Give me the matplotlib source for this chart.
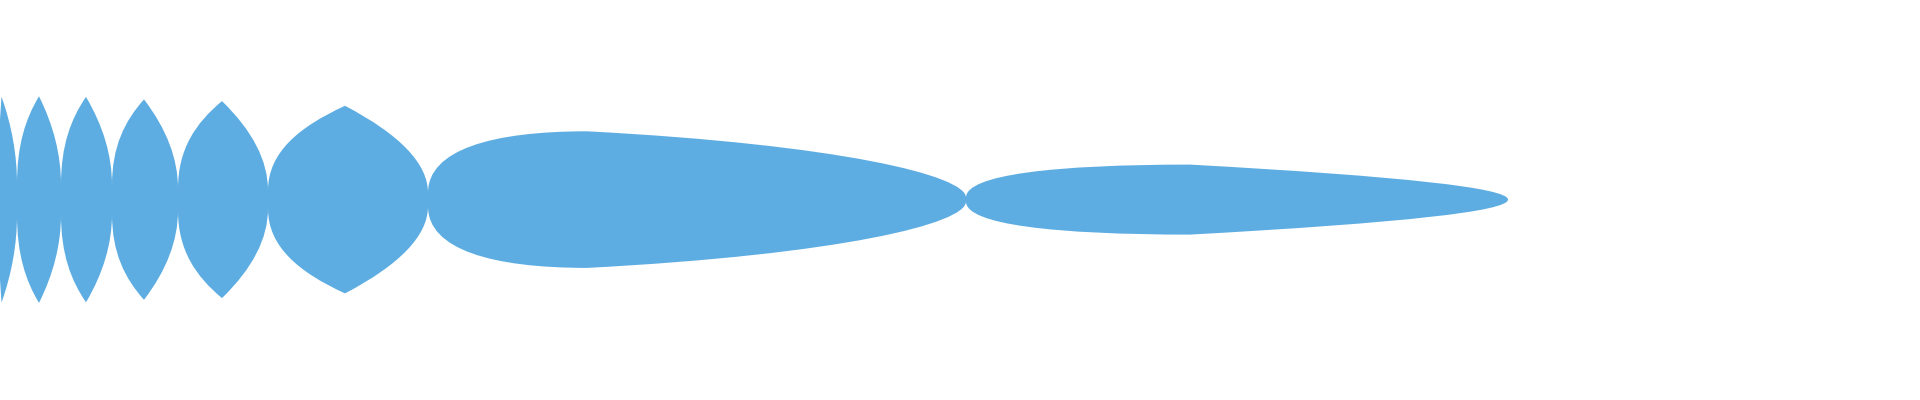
import numpy as np
import matplotlib
matplotlib.use("Agg")
import matplotlib.pyplot as plt
from matplotlib.path import Path
from matplotlib.patches import PathPatch

# outline nodes: position along the axis and half-width
node_x = [0, 1.5, 17, 39, 61, 86, 112, 144, 178, 222, 268, 345, 428, 587, 966, 1190, 1508]
node_w = [80, 103, 15.5, 103.3, 15, 102.7, 14.5, 100.2, 11, 98.5, 9, 93.8, 6.7, 68.3, 2, 35, 0]

# curve shape of each segment (waist -> peak): p, q, r  (None = straight)
seg_shape = [None,
             (1/3, 2/3, 1/3), (0.45, 0.6, 0.25),
             (1/3, 2/3, 1/3), (0.45, 0.6, 0.25),
             (1/3, 2/3, 1/3), (0.45, 0.6, 0.25),
             (1/3, 2/3, 1/3), (0.45, 0.6, 0.25),
             (1/3, 2/3, 1/3), (0.45, 0.6, 0.25),
             (1/3, 2/3, 1/3), (0.7, 0.6, 0.0),
             (1/3, 2/3, 0.2), (0.7, 0.6, 0.0),
             (1/3, 2/3, 1/3)]

center = 199.6
color = "#5dade2"


def controls(xa, wa, xb, wb, shape):
    # returns the two bezier controls going from a to b
    if shape is None:
        return (xa, wa), (xb, wb)
    p, q, r = shape
    if wa <= wb:
        xw, hw, xp, hp = xa, wa, xb, wb
    else:
        xw, hw, xp, hp = xb, wb, xa, wa
    c1 = (xw, hw + p * (hp - hw))
    c2 = (xp - q * (xp - xw), hp - r * (hp - hw))
    if wa <= wb:
        return c1, c2
    return c2, c1


def outline(sign):
    pts = [(node_x[0], node_w[0])]
    for i in range(len(node_x) - 1):
        c1, c2 = controls(node_x[i], node_w[i], node_x[i + 1], node_w[i + 1], seg_shape[i])
        pts += [c1, c2, (node_x[i + 1], node_w[i + 1])]
    return [(x, center + sign * w) for x, w in pts]


top = outline(-1)
bottom = outline(1)[::-1]

verts = top + [bottom[0]] + bottom[1:] + [top[0]]
codes = [Path.MOVETO] + [Path.CURVE4] * (len(top) - 1)
codes += [Path.LINETO] + [Path.CURVE4] * (len(bottom) - 1)
codes += [Path.CLOSEPOLY]

fig = plt.figure(figsize=(19.2, 4), dpi=100)
ax = fig.add_axes([0, 0, 1, 1])
ax.add_patch(PathPatch(Path(verts, codes), facecolor=color, edgecolor="none"))
ax.set_xlim(0, 1920)
ax.set_ylim(400, 0)
ax.axis("off")

fig.savefig("out.png", dpi=100, facecolor="white")
